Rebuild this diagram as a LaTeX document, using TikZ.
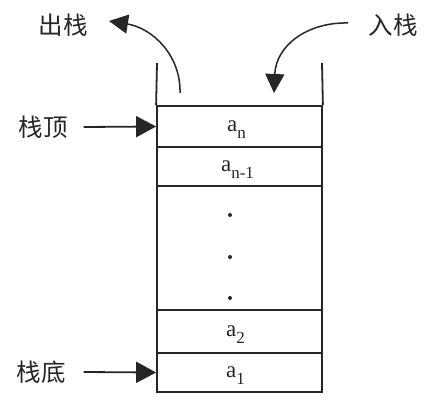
\documentclass[tikz,border=0pt]{standalone}
\usepackage{fontspec}
\setmainfont{Liberation Serif}
\newfontfamily\cjk{Noto Sans CJK SC}
\usetikzlibrary{arrows.meta}
\tikzset{
  ln/.style={line width=1.8pt, draw=black!85},
  cell/.style={ln, rectangle, minimum width=165pt, inner sep=0pt, font=\fontsize{23}{24}\selectfont},
  lab/.style={font=\cjk\fontsize{24.5}{26}\selectfont, text=black!85, inner sep=0pt},
  arr/.style={ln, -{Triangle[length=20pt,width=21pt]}},
  carr/.style={line width=1.5pt, draw=black!85, -{Triangle[length=19pt,width=19pt]}},
  txt/.style={inner sep=0pt, text=black!85, font=\fontsize{23}{24}\selectfont},
}
\newcommand{\sub}[1]{a\raisebox{-7pt}{\fontsize{17}{18}\selectfont #1}}
\begin{document}
\begin{tikzpicture}[x=1pt,y=-1pt]
\useasboundingbox[fill=white] (0,0) rectangle (438,403);
% stack cells
\node[cell, minimum height=41pt] (an)  at (239.5,126.5) {};
\node[cell, minimum height=39pt] (an1) at (239.5,166.5) {};
\node[cell, minimum height=124pt] (mid) at (239.5,248) {};
\node[cell, minimum height=43pt] (a2)  at (239.5,331.5) {};
\node[cell, minimum height=39pt] (a1)  at (239.5,372.5) {};
\node[txt] at ([xshift=-3pt,yshift=-3pt]an.center) {\sub{n}};
\node[txt] at ([xshift=-2pt,yshift=-3pt]an1.center) {\sub{n-1}};
\node[txt] at ([xshift=-4pt,yshift=-3pt]a2.center) {\sub{2}};
\node[txt] at ([xshift=-4pt,yshift=-3pt]a1.center) {\sub{1}};
% walls
\coordinate (wl) at (157,63);
\coordinate (wr) at (322,63);
\draw[ln] (wl) -- (an.north west);
\draw[ln] (wr) -- (an.north east);
% dots
\foreach \y/\n in {215/d1,257/d2,298/d3}
  \fill[black!85] (230,\y) circle (2pt) coordinate (\n);
% labels
\node[lab] (top) at (43,127) {栈顶};
\node[lab] (bot) at (41,372) {栈底};
\node[lab] (out) at (63,25) {出栈};
\node[lab] (in)  at (393,25) {入栈};
\draw[arr] ([xshift=16pt]top.east) -- (an.west);
\draw[arr] ([xshift=18pt]bot.east) -- (a1.west);
% curved arrows
\coordinate (os) at (180,93);
\coordinate (ot) at (109,21);
\coordinate (is) at (348,23);
\coordinate (it) at (274,93);
\draw[carr] (os) .. controls (181,55) and (152,28) .. (ot);
\draw[carr] (is) .. controls (308,22) and (276,45) .. (it);
\end{tikzpicture}
\end{document}
